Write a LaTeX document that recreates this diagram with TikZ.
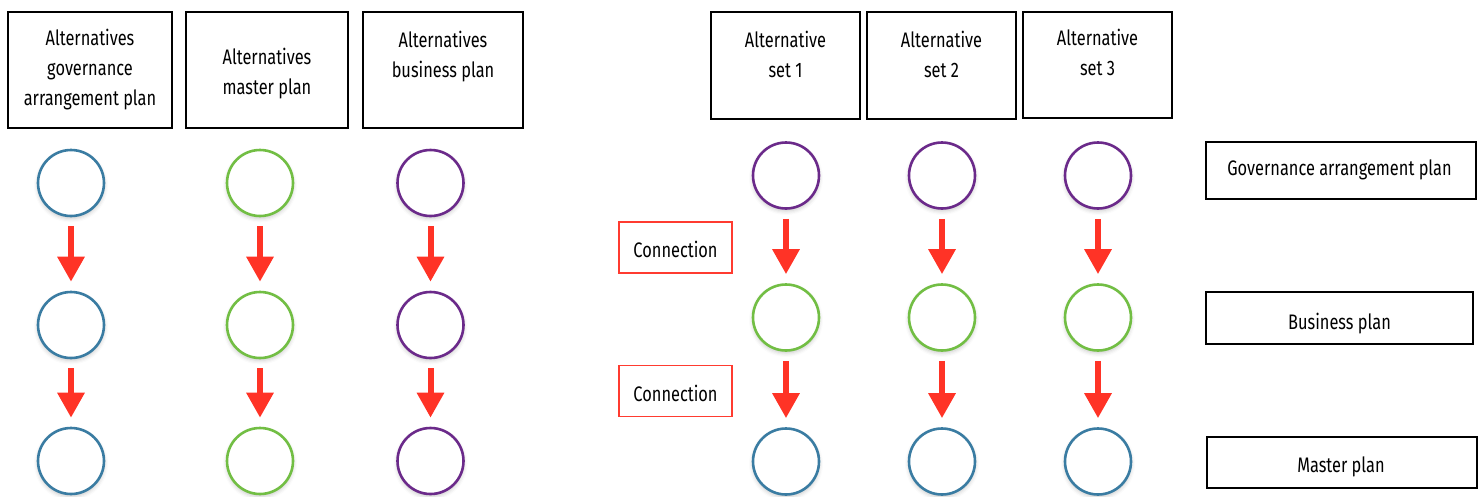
\documentclass[tikz,border=0pt]{standalone}
\usepackage{fontspec}
\setmainfont[FakeStretch=0.78]{Fira Sans}
\usetikzlibrary{arrows.meta,shadows.blur}
\definecolor{planblue}{HTML}{3A7CA2}
\definecolor{plangreen}{HTML}{72BE44}
\definecolor{planpurple}{HTML}{6B2A8A}
\definecolor{flowred}{HTML}{FF3326}
\definecolor{linkred}{HTML}{FF3B30}
\begin{document}
\begin{tikzpicture}[x=1pt,y=-1pt,
  box/.style={draw=black, line width=1.8pt, rectangle, inner sep=0pt},
  linkbox/.style={draw=linkred, line width=1.5pt, rectangle, inner sep=0pt,
    minimum width=113pt, minimum height=51pt},
  txt/.style={font=\fontsize{21}{30}\selectfont, align=center, inner sep=0pt},
  ring/.style={circle, draw=#1, line width=2.6pt, fill=white, minimum size=66pt,
    inner sep=0pt, blur shadow={shadow xshift=0pt, shadow yshift=-2.5pt,
    shadow blur radius=4pt, shadow opacity=22}},
  flow/.style={draw=flowred, line width=6pt, -{Triangle[length=25pt,width=26pt]},
    shorten <=9pt, shorten >=9pt}
]
\useasboundingbox (0,0) rectangle (1484,496);

% ---------- left: alternatives per plan ----------
\node[box, minimum width=164pt, minimum height=116pt] (la1) at (90,70) {};
\node[box, minimum width=162pt, minimum height=116pt] (la2) at (267,70) {};
\node[box, minimum width=160pt, minimum height=116pt] (la3) at (443,70) {};
\node[txt] (la1t) at (90,70) {Alternatives\\governance\\arrangement plan};
\node[txt] (la2t) at (267,73.5) {Alternatives\\master plan};
\node[txt] (la3t) at (443,57) {Alternatives\\business plan};

\foreach \x/\c/\n in {71/planblue/1, 260/plangreen/2, 430.5/planpurple/3} {
  \node[ring=\c] (l\n a) at (\x,183) {};
  \node[ring=\c] (l\n b) at (\x,325) {};
  \node[ring=\c] (l\n c) at (\x,461) {};
  \draw[flow] (l\n a) -- (l\n b);
  \draw[flow] (l\n b) -- (l\n c);
}

% ---------- right: alternative sets ----------
\node[box, minimum width=149pt, minimum height=107pt] (ra1) at (785.5,65.5) {};
\node[box, minimum width=149pt, minimum height=107pt] (ra2) at (941.5,65.5) {};
\node[box, minimum width=149pt, minimum height=106pt] (ra3) at (1097.5,65) {};
\node[txt] (ra1t) at (785.5,54.5) {Alternative\\set 1};
\node[txt] (ra2t) at (941.5,54.5) {Alternative\\set 2};
\node[txt] (ra3t) at (1097.5,52) {Alternative\\set 3};

\foreach \x/\n in {786/1, 942/2, 1098/3} {
  \node[ring=planpurple] (r\n a) at (\x,175.5) {};
  \node[ring=plangreen] (r\n b) at (\x,317.5) {};
  \node[ring=planblue] (r\n c) at (\x,461.5) {};
  \draw[flow] (r\n a) -- (r\n b);
  \draw[flow] (r\n b) -- (r\n c);
}

\node[linkbox] (con1) at (675.5,247.5) {};
\node[txt] (con1t) at (675.5,249) {Connection};
\node[linkbox] (con2) at (675.5,391) {};
\node[txt] (con2t) at (675.5,393) {Connection};

% ---------- plan labels ----------
\node[box, minimum width=270pt, minimum height=57pt] (pg) at (1341,170.5) {};
\node[box, minimum width=267pt, minimum height=52pt] (pb) at (1339.5,318) {};
\node[box, minimum width=270pt, minimum height=51pt] (pm) at (1342,462.5) {};
\node[txt] (pgt) at (1339.5,170) {Governance arrangement plan};
\node[txt] (pbt) at (1339.5,324) {Business plan};
\node[txt] (pmt) at (1341,467) {Master plan};
\end{tikzpicture}
\end{document}
